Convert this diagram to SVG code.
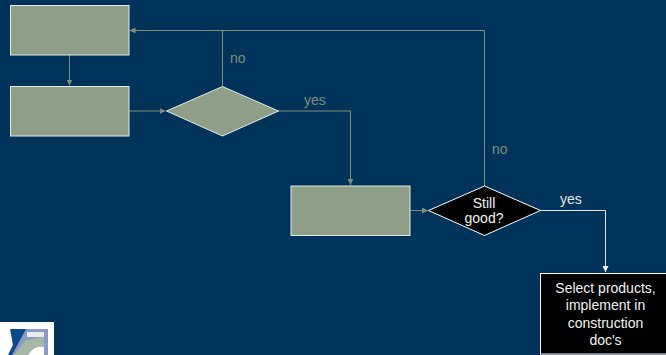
<svg xmlns="http://www.w3.org/2000/svg" width="666" height="355" viewBox="0 0 666 355">
<style>
.sage{fill:#8e9e87;stroke:#e6ebe4;stroke-width:1}
.blk{fill:#000;stroke:#fff;stroke-width:1}
.c{fill:none;stroke:#808f7a;stroke-width:1}
.w{fill:none;stroke:#e4e8e2;stroke-width:1}
text{font-family:"Liberation Sans",Arial,sans-serif;font-size:14px}
.lg{fill:#7d8f7c}
.lw{fill:#f2f2f2;text-anchor:middle}
</style>
<defs>
<marker id="a" markerUnits="userSpaceOnUse" markerWidth="6" markerHeight="6" refX="6" refY="3" orient="auto"><path d="M0 0L6 3L0 6Z" fill="#808f7a"/></marker>
<marker id="b" markerUnits="userSpaceOnUse" markerWidth="6" markerHeight="6" refX="6" refY="3" orient="auto"><path d="M0 0L6 3L0 6Z" fill="#fff"/></marker>
</defs>
<rect width="666" height="355" fill="#00335a"/>
<g id="connectors">
<path class="c" d="M69.500 55V85.500" marker-end="url(#a)"/>
<path class="c" d="M129 111H165.500" marker-end="url(#a)"/>
<path class="c" d="M222.500 86V30.500" />
<path class="c" d="M484.500 186V30.500H129.500" marker-end="url(#a)"/>
<path class="c" d="M278 111H350.500V185" marker-end="url(#a)"/>
<path class="c" d="M410 210.500H428" marker-end="url(#a)"/>
<path class="w" d="M540 210.500H605.500V272" marker-end="url(#b)"/>
</g>
<g id="node1"><rect class="sage" x="10.500" y="5.500" width="118.500" height="49.500"/></g>
<g id="node2"><rect class="sage" x="10.500" y="86.500" width="118.500" height="49.500"/></g>
<g id="decision1"><polygon class="sage" points="166.500,111 222.500,86.500 278.500,111 222.500,136"/></g>
<g id="node3"><rect class="sage" x="291" y="186" width="119" height="49.500"/></g>
<g id="decision2"><polygon class="blk" points="428.500,210.500 484.500,186 540.500,210.500 484.500,235.500"/>
<text class="lw" x="484" y="208">Still</text><text class="lw" x="484" y="222.500">good?</text></g>
<g id="node4"><rect class="blk" x="540.500" y="273.500" width="130" height="80.500"/>
<text class="lw" x="605.500" y="293">Select products,</text><text class="lw" x="605.500" y="310">implement in</text><text class="lw" x="605.500" y="328">construction</text><text class="lw" x="605.500" y="345">doc's</text></g>
<g id="labels">
<text class="lg" x="230" y="63">no</text>
<text class="lg" x="304" y="105">yes</text>
<text class="lg" x="492" y="154">no</text>
<text x="560" y="204" fill="#e4e8e2">yes</text>
</g>
<g id="logo">
<rect x="0" y="322" width="54" height="33" fill="#fff"/>
<rect x="0" y="329" width="48" height="26" fill="#8a9bc4"/>
<path d="M0 329H26L12 355H0Z" fill="#0b4a8a"/>
<path d="M0 329H10L13 345L8 355H0Z" fill="#fff"/>
<path d="M27 332H44V337H27Z" fill="#e8ecf0"/>
<path d="M14 355L26 340L44 337V355Z" fill="#a5b8a5"/>
<path d="M28 355Q34 345 44 347V355Z" fill="#fff"/>
</g>
</svg>
